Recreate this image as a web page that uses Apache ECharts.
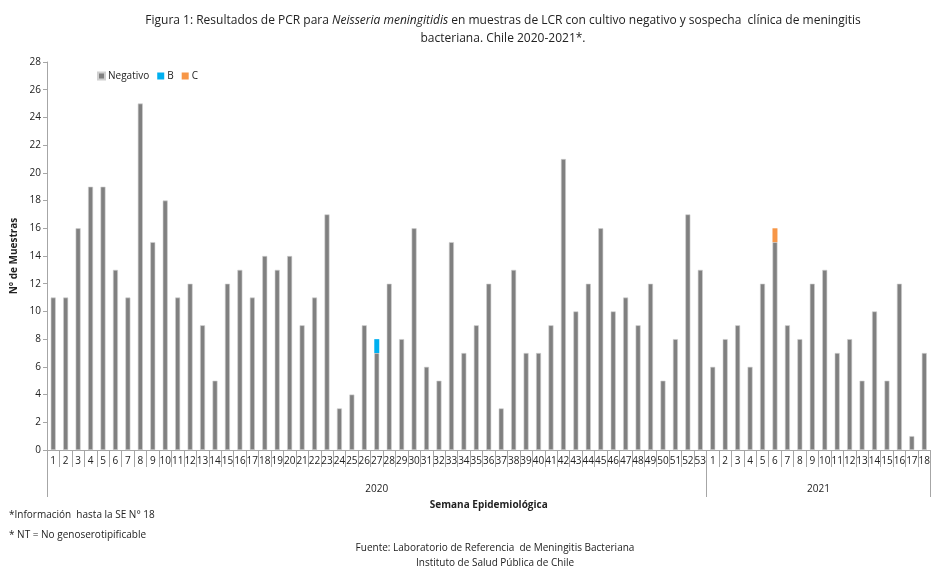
<!DOCTYPE html>
<html>
<head>
<meta charset="utf-8">
<script src="https://cdn.jsdelivr.net/npm/echarts@6/dist/echarts.min.js"></script>
<style>html,body{margin:0;padding:0;background:#fff;}#c{width:933px;height:568px;}</style>
</head>
<body>
<div id="c"></div>
<script>
const weeks2020 = Array.from({length: 53}, (_, i) => String(i + 1));
const weeks2021 = Array.from({length: 18}, (_, i) => String(i + 1));
const years = ['2020', '2021'];
const negativo2020 = [11,11,16,19,19,13,11,25,15,18,11,12,9,5,12,13,11,14,13,14,9,11,17,3,4,9,7,12,8,16,6,5,15,7,9,12,3,13,7,7,9,21,10,12,16,10,11,9,12,5,8,17,13];
const negativo2021 = [6,8,9,6,12,15,9,8,12,13,7,8,5,10,5,12,1,7];
const b2020 = {27: 1};
const c2021 = {6: 1};
const yTicks = {min: 0, max: 28, interval: 2};

const categories = weeks2020.concat(weeks2021);
const negativo = negativo2020.concat(negativo2021);
const bSeries = categories.map((w, i) => (i < 53 && b2020[i + 1]) ? b2020[i + 1] : null);
const cSeries = categories.map((w, i) => (i >= 53 && c2021[i - 52]) ? c2021[i - 52] : null);
const spans = [weeks2020.length, weeks2021.length];
const bounds = [0, spans[0], spans[0] + spans[1]];
const mids = [spans[0] / 2, spans[0] + spans[1] / 2];

const FONT = 'Open Sans';
const chart = echarts.init(document.getElementById('c'));
chart.setOption({
  animation: false,
  textStyle: {fontFamily: FONT},
  title: [
    {
      text: '{n|Figura 1: Resultados de PCR para }{i|Neisseria meningitidis}{n| en muestras de LCR con cultivo negativo y sospecha  clínica de meningitis}\n{n|bacteriana. Chile 2020-2021*.}',
      left: 498, top: 7, textAlign: 'center',
      textStyle: {fontWeight: 'normal', rich: {
        n: {fontSize: 12, color: '#222', fontFamily: FONT, fontWeight: 'normal', lineHeight: 18},
        i: {fontSize: 12, color: '#222', fontStyle: 'italic', fontWeight: 'normal', fontFamily: FONT, lineHeight: 18}
      }}
    },
    {text: '*Información  hasta la SE N° 18', left: 4, top: 505, textStyle: {fontSize: 10, fontWeight: 'normal', color: '#222'}},
    {text: '* NT = No genoserotipificable', left: 4, top: 525, textStyle: {fontSize: 10, fontWeight: 'normal', color: '#222'}},
    {text: 'Fuente: Laboratorio de Referencia  de Meningitis Bacteriana', left: 490, top: 538, textAlign: 'center', textStyle: {fontSize: 10, fontWeight: 'normal', color: '#222'}},
    {text: 'Instituto de Salud Pública de Chile', left: 490, top: 553, textAlign: 'center', textStyle: {fontSize: 10, fontWeight: 'normal', color: '#222'}}
  ],
  legend: {
    left: 92, top: 66, itemWidth: 7, itemHeight: 7, itemGap: 8,
    icon: 'rect',
    textStyle: {fontSize: 10, color: '#222', padding: [0, 0, 0, -2]},
    data: ['Negativo', 'B', 'C']
  },
  grid: {left: 47, right: 1, top: 62, bottom: 118},
  xAxis: [
    {
      type: 'category', data: categories, position: 'bottom',
      axisLine: {show: true, lineStyle: {color: '#a6a6a6'}},
      axisTick: {show: true, interval: 0, alignWithLabel: false, length: 17, lineStyle: {color: '#a6a6a6'}},
      axisLabel: {interval: 0, fontSize: 10, color: '#222', margin: 6},
      name: 'Semana Epidemiológica', nameLocation: 'middle', nameGap: 50,
      nameTextStyle: {fontSize: 10, fontWeight: 'bold', color: '#222'}
    },
    {
      type: 'value', min: 0, max: bounds[2], position: 'bottom', offset: 0,
      axisLine: {show: false},
      splitLine: {show: false},
      axisTick: {show: true, customValues: bounds, length: 47, lineStyle: {color: '#a6a6a6'}},
      axisLabel: {customValues: mids, margin: 34, fontSize: 10, color: '#222',
        formatter: v => years[mids.indexOf(v)]}
    }
  ],
  yAxis: {
    type: 'value', min: yTicks.min, max: yTicks.max, interval: yTicks.interval,
    axisLine: {show: true, lineStyle: {color: '#a6a6a6'}},
    axisTick: {show: true, length: 4, lineStyle: {color: '#a6a6a6'}},
    splitLine: {show: false},
    axisLabel: {fontSize: 10, color: '#222', margin: 6},
    name: 'N° de Muestras', nameLocation: 'middle', nameGap: 24, nameRotate: 90,
    nameTextStyle: {fontSize: 10, fontWeight: 'bold', color: '#222'}
  },
  series: [
    {name: 'Negativo', type: 'bar', stack: 's', data: negativo, barWidth: '40%', xAxisIndex: 0,
      itemStyle: {color: '#808080', borderColor: '#d0d0d0', borderWidth: 0.6}},
    {name: 'B', type: 'bar', stack: 's', data: bSeries, barWidth: '40%', xAxisIndex: 0,
      itemStyle: {color: '#00b0f0'}},
    {name: 'C', type: 'bar', stack: 's', data: cSeries, barWidth: '40%', xAxisIndex: 0,
      itemStyle: {color: '#f79646'}}
  ]
});
</script>
</body>
</html>
